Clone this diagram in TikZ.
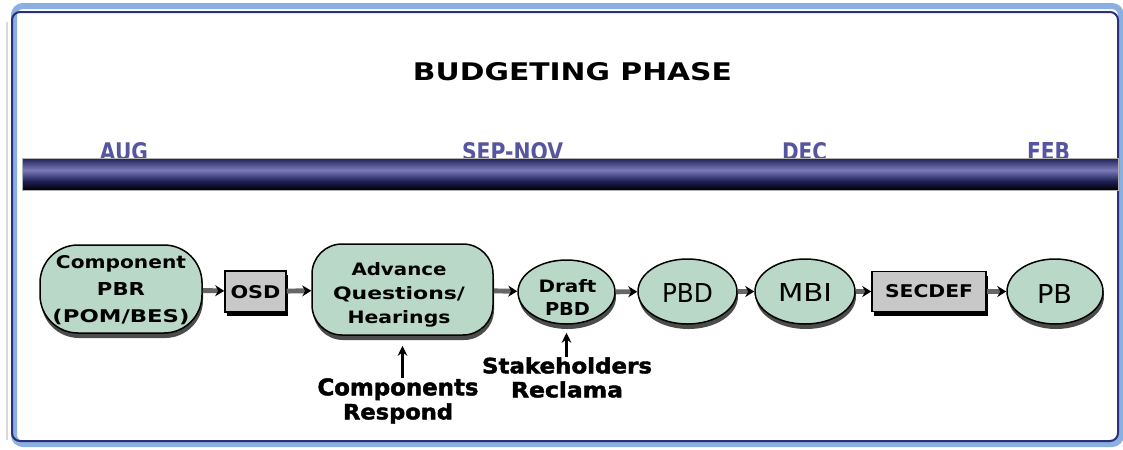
\documentclass[tikz,border=0pt]{standalone}
\usepackage{fontspec}
\usepackage{graphicx}
\usetikzlibrary{shapes.geometric,arrows.meta,shadows}
\setmainfont{DejaVu Sans}
\newfontfamily\heavyf{DejaVu Sans Bold}[FakeBold=2]
\newdimen\pxu \pxu=0.025cm
\newcommand\fitt[3]{\resizebox{#1\pxu}{#2\pxu}{#3}}
\definecolor{mint}{HTML}{B9D8C8}
\definecolor{boxgray}{HTML}{C8C8C8}
\definecolor{monthc}{HTML}{5656A0}
\definecolor{barnavy}{HTML}{202058}
\definecolor{barlight}{HTML}{7A7AB8}
\definecolor{framelight}{HTML}{8AB0E2}
\definecolor{framedark}{HTML}{2E2E7A}
\tikzset{
  shp/.style={draw=black, line width=1.5\pxu, fill=mint, inner sep=0pt,
    drop shadow={shadow xshift=1\pxu, shadow yshift=-5\pxu, fill=black!70, opacity=1}},
  ovl/.style={shp, ellipse},
  rrect/.style={shp, rectangle},
  gbox/.style={rectangle, draw=black, line width=1.5\pxu, fill=boxgray, inner sep=0pt,
    drop shadow={shadow xshift=2\pxu, shadow yshift=-4\pxu, fill=black, opacity=1}},
  conn/.style={line width=3.5pt, draw=black!60, -{Stealth[black, length=6.4pt, width=7.8pt]}},
  uparr/.style={line width=1.6pt, draw=black, -{Stealth[length=7.1pt, width=6.8pt]}},
  month/.style={anchor=base, inner sep=0pt, text=monthc, font=\bfseries},
  txt/.style={inner sep=0pt, align=center},
}
\begin{document}
\begin{tikzpicture}[x=0.025cm, y=-0.025cm]
\useasboundingbox (0,0) rectangle (1123,449);
% frame
\draw[gray!30, line width=2\pxu] (7,22) -- (7,440);
\draw[framelight, line width=6\pxu, rounded corners=9\pxu] (14,6) rectangle (1121,444);
\draw[framedark, line width=2\pxu, rounded corners=8\pxu] (12,12) rectangle (1118,441);
% title
\node[anchor=base, inner sep=0pt] (title) at (572.5,80) {\bfseries\fitt{319}{18}{BUDGETING PHASE}};
% months
\node[month] (aug) at (124,160) {\fitt{48}{18}{AUG}};
\node[month] (sep) at (512.5,160) {\fitt{101}{18}{SEP-NOV}};
\node[month] (dec) at (804.5,160) {\fitt{45}{18}{DEC}};
\node[month] (feb) at (1048.5,160) {\fitt{43}{18}{FEB}};
% bar
\shade[top color=barnavy, bottom color=barlight] (22,158) rectangle (1118,170);
\shade[top color=barlight, bottom color=barnavy] (22,170) rectangle (1118,181);
\shade[top color=barnavy, bottom color=black] (22,181) rectangle (1118,190);
\draw[gray!60, line width=0.8\pxu] (22,158) rectangle (1118,190);
% shapes
\node[rrect, rounded corners=38\pxu, minimum width=162\pxu, minimum height=88\pxu] (comp) at (121,289) {};
\node[gbox, minimum width=61\pxu, minimum height=41\pxu] (osd) at (255.5,291.5) {};
\node[rrect, rounded corners=30\pxu, minimum width=181\pxu, minimum height=91\pxu] (adv) at (402.5,289.5) {};
\node[ovl, minimum width=97\pxu, minimum height=64\pxu] (draft) at (566.5,292) {};
\node[ovl, minimum width=99\pxu, minimum height=65\pxu] (pbd) at (687.5,291.5) {};
\node[ovl, minimum width=100\pxu, minimum height=65\pxu] (mbi) at (805,291.5) {};
\node[gbox, minimum width=114\pxu, minimum height=40\pxu] (secdef) at (929,291.5) {};
\node[ovl, minimum width=96\pxu, minimum height=65\pxu] (pb) at (1055,291.5) {};
% texts in shapes
\node[txt, anchor=north, font=\bfseries\fontsize{10pt}{19.2pt}\selectfont] (compt) at (121,255)
  {\fitt{130}{13}{Component}\\\fitt{48}{13}{PBR}\\\fitt{137}{13}{\smash{(}POM/BES\smash{)}}};
\node[txt, anchor=base] (osdt) at (255.5,298) {\bfseries\fitt{50}{13}{OSD}};
\node[txt, anchor=north, font=\bfseries\fontsize{10pt}{17.1pt}\selectfont] (advt) at (399,262)
  {\fitt{95}{13}{Advance}\\\fitt{132}{13}{Questions/}\\\fitt{103}{13}{Hearings}};
\node[txt, anchor=north, font=\bfseries\fontsize{10pt}{16.4pt}\selectfont] (draftt) at (567.5,279)
  {\fitt{58}{13}{Draft}\\\fitt{45}{13}{PBD}};
\node[txt, anchor=base] (pbdt) at (687.5,302) {\fitt{51}{19}{PBD}};
\node[txt, anchor=base] (mbit) at (805,301) {\fitt{54}{18}{MBI}};
\node[txt, anchor=base] (secdeft) at (929,297) {\bfseries\fitt{88}{13}{SECDEF}};
\node[txt, anchor=base] (pbt) at (1054.5,303) {\fitt{35}{19}{PB}};
% lower texts
\node[txt, anchor=north, font=\heavyf\fontsize{10pt}{17.1pt}\selectfont] (resp) at (398,378)
  {\fitt{161}{17}{Components}\\\fitt{110}{16}{Respond}};
\node[txt, anchor=north, font=\heavyf\fontsize{10pt}{17.1pt}\selectfont] (stake) at (567,357)
  {\fitt{170}{16}{Stakeholders}\\\fitt{112}{16}{Reclama}};
% connectors
\draw[conn] (comp) -- (osd);
\draw[conn] (osd) -- (adv);
\draw[conn] (adv) -- (draft);
\draw[conn] (draft) -- (pbd);
\draw[conn] (pbd) -- (mbi);
\draw[conn] (mbi) -- (secdef);
\draw[conn] (secdef) -- (pb);
\draw[uparr] (adv.south |- resp.north) -- ([yshift=-10\pxu]adv.south);
\draw[uparr] (draft.south |- stake.north) -- ([yshift=-8\pxu]draft.south);
\end{tikzpicture}
\end{document}
